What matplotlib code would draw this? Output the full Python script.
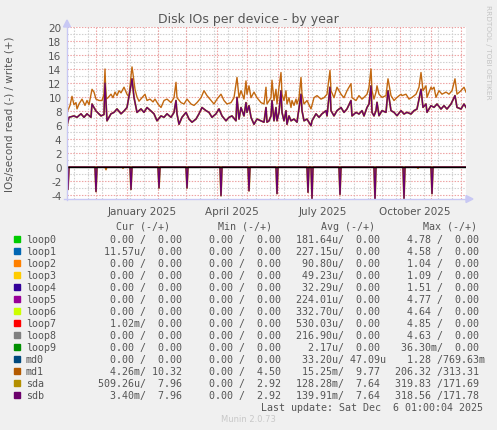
import matplotlib
matplotlib.use("Agg")
import matplotlib.pyplot as plt
import numpy as np
from matplotlib.patches import Polygon, Rectangle
from matplotlib.lines import Line2D

# time axis: one point per day, starting 2024-11-02
START = np.datetime64("2024-11-02")
N_DAYS = 400

md1_write_days = [0, 3, 5, 7, 9, 10, 12, 15, 18, 20, 22, 25, 27, 29, 32, 35, 37, 38, 39, 41,
                  44, 46, 48, 50, 52, 54, 57, 60, 62, 64, 65, 66, 68, 70, 72, 75, 78, 80, 83, 86,
                  88, 91, 94, 97, 100, 104, 107, 109, 110, 114, 117, 120, 124, 127, 130, 134, 137, 140, 144, 147,
                  150, 154, 157, 160, 164, 167, 170, 172, 174, 177, 179, 180, 182, 184, 187, 190, 194, 197, 199, 200,
                  204, 205, 207, 209, 210, 212, 214, 215, 217, 219, 220, 222, 224, 225, 227, 229, 230, 232, 234, 235,
                  237, 240, 244, 247, 250, 254, 257, 260, 263, 264, 267, 270, 274, 277, 280, 284, 285, 289, 292, 295,
                  297, 300, 302, 304, 305, 307, 309, 310, 312, 315, 319, 321, 324, 327, 330, 334, 335, 339, 342, 345,
                  349, 352, 354, 356, 359, 360, 364, 365, 367, 369, 372, 375, 379, 382, 385, 388, 390, 394, 397, 399]
md1_write = [7.8, 8.8, 10.1, 8.9, 9.2, 8.3, 9.0, 9.7, 8.8, 9.5, 8.9, 11.1, 10.7, 9.7, 9.5, 9.5, 10.4, 14.0, 9.7, 9.9,
             10.4, 9.9, 10.7, 10.2, 10.9, 10.6, 11.4, 10.4, 10.0, 13.0, 14.3, 13.3, 11.1, 10.0, 9.4, 9.9, 10.4, 9.5, 9.7, 9.3,
             9.7, 9.0, 8.5, 9.5, 9.7, 9.2, 9.9, 12.1, 9.9, 9.2, 9.0, 9.7, 9.0, 8.8, 9.2, 9.9, 10.9, 10.2, 9.5, 9.0,
             9.7, 10.4, 9.5, 9.0, 9.2, 9.9, 12.8, 9.9, 10.9, 9.7, 12.3, 10.4, 11.6, 9.9, 10.7, 9.9, 9.2, 9.0, 11.4, 9.0,
             9.9, 12.4, 9.5, 11.1, 9.0, 11.4, 13.5, 10.4, 9.5, 10.9, 9.0, 9.9, 8.5, 9.5, 8.8, 9.7, 9.0, 9.9, 12.8, 10.4,
             9.0, 9.5, 8.3, 9.9, 10.2, 9.7, 9.9, 10.4, 13.8, 10.9, 9.9, 11.4, 10.4, 9.9, 10.9, 11.9, 9.9, 9.5, 10.2, 9.7,
             9.95, 10.4, 11.4, 14.0, 10.9, 9.7, 10.7, 11.6, 10.4, 9.95, 10.2, 12.6, 10.2, 9.5, 9.95, 10.4, 10.2, 10.4, 9.7, 9.95,
             10.4, 11.4, 13.5, 10.9, 11.6, 9.95, 11.4, 11.1, 11.4, 9.95, 10.9, 10.4, 10.7, 10.4, 10.9, 12.6, 10.4, 10.9, 11.4, 10.7]

# sdb write (sda is identical and hidden underneath)
sdb_write_days = [0, 2, 7, 10, 14, 17, 20, 24, 25, 29, 34, 37, 38, 40, 44, 47, 50, 54, 57, 60,
                  63, 65, 67, 70, 74, 77, 80, 84, 87, 90, 94, 97, 100, 104, 107, 109, 110, 112, 115, 119,
                  122, 125, 129, 132, 135, 139, 142, 145, 149, 152, 155, 159, 162, 165, 169, 170, 172, 174, 177, 179,
                  180, 182, 184, 187, 190, 194, 197, 199, 200, 202, 204, 205, 207, 209, 210, 212, 214, 215, 217, 219,
                  220, 222, 224, 227, 230, 234, 235, 237, 240, 244, 245, 249, 252, 255, 259, 260, 263, 264, 267, 270,
                  274, 277, 280, 284, 285, 289, 292, 295, 297, 300, 302, 304, 305, 307, 309, 310, 312, 315, 319, 321,
                  324, 327, 330, 334, 337, 340, 344, 347, 350, 354, 356, 359, 360, 364, 367, 370, 374, 377, 380, 384,
                  388, 390, 394, 397, 399]
sdb_write = [5.9, 7.1, 7.3, 7.1, 7.6, 7.1, 7.6, 7.1, 9.0, 8.0, 7.3, 7.5, 12.0, 6.6, 7.6, 7.8, 8.3, 7.6, 8.0, 8.5,
             10.9, 12.6, 9.95, 7.8, 8.3, 7.8, 8.5, 8.0, 7.6, 6.6, 7.3, 7.1, 7.6, 7.1, 7.8, 9.5, 7.6, 6.1, 7.1, 7.8,
             6.85, 6.4, 6.85, 7.6, 8.5, 8.05, 7.8, 7.1, 7.6, 8.3, 7.3, 6.6, 7.1, 7.3, 6.6, 9.95, 6.85, 8.5, 7.3, 9.2,
             7.8, 8.76, 7.1, 6.1, 6.85, 6.6, 6.4, 8.5, 6.4, 6.6, 7.3, 9.5, 6.6, 8.5, 6.6, 7.8, 10.9, 7.8, 6.6, 8.05,
             6.1, 7.3, 6.6, 6.85, 6.4, 10.4, 8.05, 6.6, 6.85, 5.9, 6.6, 7.6, 7.1, 7.6, 8.05, 7.3, 11.4, 8.05, 7.3, 8.05,
             8.5, 7.8, 8.3, 9.5, 7.3, 7.8, 7.57, 8.05, 7.3, 8.5, 9.0, 11.6, 7.8, 7.3, 8.05, 9.24, 7.33, 8.05, 7.81, 10.9,
             8.05, 7.81, 7.33, 8.05, 7.57, 7.81, 7.57, 8.05, 8.28, 11.1, 8.52, 9.0, 7.81, 8.76, 8.52, 9.0, 8.28, 8.76, 8.28, 9.0,
             10.2, 8.52, 8.28, 9.0, 8.52]

# reads (drawn negative): days with non-zero daily averages
sdb_read_days = [1, 29, 64, 92, 120, 154, 182, 210, 241, 245, 273, 308, 337, 365]
sdb_read = [3.2, 3.5, 3.2, 3.0, 3.0, 4.1, 3.4, 3.8, 3.6, 4.5, 3.9, 4.7, 4.5, 3.8]
md1_read_days = [39, 56, 351]
md1_read = [0.4, 0.2, 0.2]

# legend table
names = ["loop0", "loop1", "loop2", "loop3", "loop4", "loop5", "loop6", "loop7",
         "loop8", "loop9", "md0", "md1", "sda", "sdb"]
colors = ["#00cc00", "#0066b3", "#ff8000", "#ffcc00", "#330099", "#990099", "#ccff00", "#ff0000",
          "#808080", "#008f00", "#00487d", "#b35a00", "#b38f00", "#6b006b"]
cur_read = [0, 11.57e-6, 0, 0, 0, 0, 0, 1.02e-3, 0, 0, 0, 4.26e-3, 509.26e-6, 3.40e-3]
cur_write = [0, 0, 0, 0, 0, 0, 0, 0, 0, 0, 0, 10.32, 7.96, 7.96]
min_read = [0] * 14
min_write = [0, 0, 0, 0, 0, 0, 0, 0, 0, 0, 0, 4.50, 2.92, 2.92]
avg_read = [181.64e-6, 227.15e-6, 90.80e-6, 49.23e-6, 32.29e-6, 224.01e-6, 332.70e-6,
            530.03e-6, 216.90e-6, 2.17e-6, 33.20e-6, 15.25e-3, 128.28e-3, 139.91e-3]
avg_write = [0, 0, 0, 0, 0, 0, 0, 0, 0, 0, 47.09e-6, 9.77, 7.64, 7.64]
max_read = [4.78, 4.58, 1.04, 1.09, 1.51, 4.77, 4.64, 4.85, 4.63, 36.30e-3, 1.28, 206.32, 319.83, 318.56]
max_write = [0, 0, 0, 0, 0, 0, 0, 0, 0, 0, 769.63e-3, 313.31, 171.69, 171.78]

y_ticks = list(range(-4, 21, 2))
x_label_months = ["2025-01", "2025-04", "2025-07", "2025-10"]
x_label_text = ["January 2025", "April 2025", "July 2025", "October 2025"]

W, H = 497, 431


def fx(x):
    return x / W


def fy(y):
    return 1 - y / H


def si(v):
    # rrdtool style %6.2lf%s
    if v == 0:
        return f"{0:6.2f} "
    for p, s in [(1e6, "M"), (1e3, "k"), (1, " "), (1e-3, "m"), (1e-6, "u"), (1e-9, "n")]:
        if abs(v) >= p * 0.99999:
            return f"{v / p:6.2f}{s}"
    return f"{v:6.2f} "


fig = plt.figure(figsize=(W / 100, H / 100), dpi=100, facecolor="#f0f0f0")
ax = fig.add_axes([fx(67), fy(200), (466 - 67) / W, (200 - 28) / H])
ax.set_facecolor("white")
ax.set_xlim(0, N_DAYS - 1)
ax.set_ylim(-4.57, 20)
for s in ax.spines.values():
    s.set_visible(False)

# grid
dots = (0, (1.3, 1.3))
for v in range(-4, 21):
    if v % 2:
        ax.axhline(v, color="#cfcfcf", lw=0.8, ls=dots, zorder=1)
for d in np.arange(7, N_DAYS, 14):
    ax.axvline(d, color="#cfcfcf", lw=0.8, ls=dots, zorder=1)
for v in y_ticks:
    ax.axhline(v, color="#eda3a3", lw=0.8, ls=dots, zorder=1.5)
months = np.arange("2024-12", "2026-01", dtype="datetime64[M]")
month_off = (months.astype("datetime64[D]") - START).astype(int)
for d in month_off:
    ax.axvline(d, color="#eda3a3", lw=0.8, ls=dots, zorder=1.5)

days = np.arange(N_DAYS)
sdb_r = np.zeros(N_DAYS)
sdb_r[sdb_read_days] = sdb_read
md1_r = np.zeros(N_DAYS)
md1_r[md1_read_days] = md1_read

md1_line = "#c26810"
ax.plot(days, -md1_r, color=md1_line, lw=1.0, zorder=3)
ax.plot(md1_write_days, md1_write, color=md1_line, lw=1.0, zorder=3)
ax.plot(days, -sdb_r, color=colors[12], lw=1.3, zorder=3)
ax.plot(sdb_write_days, sdb_write, color=colors[12], lw=1.3, zorder=3)
ax.plot(days, -sdb_r, color=colors[13], lw=1.0, zorder=4)
ax.plot(sdb_write_days, sdb_write, color=colors[13], lw=1.0, zorder=4)
ax.axhline(0, color="black", lw=1.0, zorder=5)

txt = "#555555"
ax.set_yticks(y_ticks)
ax.set_yticklabels([str(v) for v in y_ticks], fontsize=7.5, color=txt)
lab_pos = [(np.datetime64(m + "-01") - START).astype(int) + 15 for m in x_label_months]
ax.set_xticks(lab_pos)
ax.set_xticklabels(x_label_text, fontsize=7.5, color=txt)
ax.tick_params(length=0, pad=5)
ax.tick_params(axis="y", pad=4)

# axes with arrows
ax_col = "#c8c8f4"
fig.add_artist(Line2D([fx(67), fx(67)], [fy(201), fy(26)], color=ax_col, lw=1))
fig.add_artist(Line2D([fx(64), fx(468)], [fy(200), fy(200)], color=ax_col, lw=1))
fig.add_artist(Polygon([[fx(63.5), fy(28)], [fx(70.5), fy(28)], [fx(67), fy(21)]], color=ax_col))
fig.add_artist(Polygon([[fx(466), fy(196.5)], [fx(466), fy(203.5)], [fx(473), fy(200)]], color=ax_col))

fig.text(0.5, fy(19), "Disk IOs per device - by year", ha="center", va="center",
         fontsize=9, color=txt)
fig.text(fx(10), fy(114), "IOs/second read (-) / write (+)", rotation=90, ha="center",
         va="center", fontsize=7.5, color=txt)
fig.text(fx(488), fy(52), "RRDTOOL / TOBI OETIKER", rotation=270, ha="center", va="center",
         fontsize=5.3, color="#c4c4c4")

# legend
mono = dict(family="DejaVu Sans Mono", fontsize=7.2, color=txt, va="center")
col_x = [98, 197, 296, 395]
for hx, h in zip([116, 218, 321, 423], ["Cur (-/+)", "Min (-/+)", "Avg (-/+)", "Max (-/+)"]):
    fig.text(fx(hx), fy(227), h, ha="left", **mono)
for i, n in enumerate(names):
    y = 240 + 12 * i
    fig.add_artist(Rectangle((fx(14), fy(y + 3)), 6 / W, 6 / H, color=colors[i]))
    fig.text(fx(26), fy(y), n, ha="left", **mono)
    cols = [(cur_read[i], cur_write[i]), (min_read[i], min_write[i]),
            (avg_read[i], avg_write[i]), (max_read[i], max_write[i])]
    for cx, (r, w) in zip(col_x, cols):
        fig.text(fx(cx), fy(y), si(r) + "/" + si(w), ha="left", **mono)
fig.text(fx(483), fy(408), "Last update: Sat Dec  6 01:00:04 2025", ha="right", **mono)
fig.text(0.5, fy(420), "Munin 2.0.73", ha="center", va="center", fontsize=6, color="#c8c8c8")

fig.savefig("out.png", dpi=100, facecolor=fig.get_facecolor())
